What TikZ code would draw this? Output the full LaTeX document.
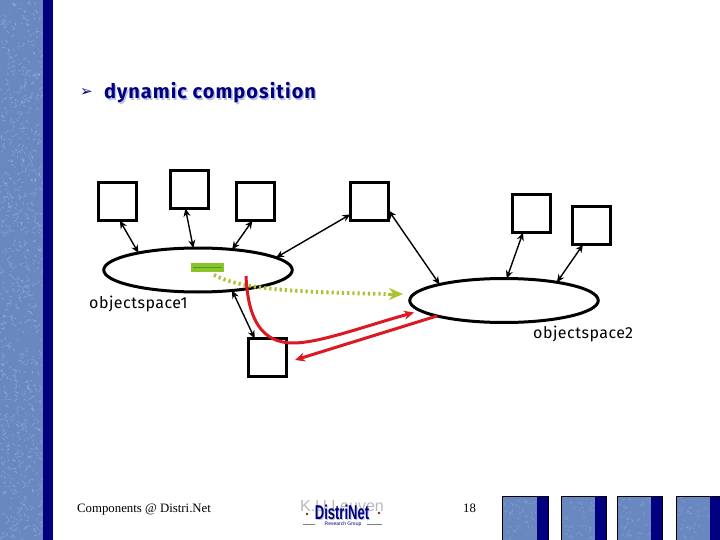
\documentclass[tikz,border=0pt]{standalone}
\usepackage{fontspec}
\usetikzlibrary{arrows.meta,shapes.geometric,calc}
\setmainfont{Liberation Serif}
\newfontfamily\labelfont[LetterSpace=3]{Fira Sans}
\newfontfamily\titlefont[LetterSpace=5]{Fira Sans}
\newfontfamily\logofont[FakeStretch=0.65]{Liberation Sans}
\newfontfamily\plainsans{Liberation Sans}
\newfontfamily\symfont{DejaVu Sans}
\definecolor{slate}{RGB}{106,136,192}
\definecolor{slatelight}{RGB}{165,190,230}
\definecolor{navybar}{RGB}{0,0,128}
\definecolor{titleshade}{RGB}{190,195,225}
\definecolor{limebar}{RGB}{140,195,40}
\definecolor{limeline}{RGB}{60,160,50}
\definecolor{olivedot}{RGB}{170,195,50}
\definecolor{redline}{RGB}{220,25,35}
\definecolor{logogrey}{RGB}{185,185,185}
\definecolor{logored}{RGB}{130,40,40}
\tikzset{
 objbox/.style={draw=black,line width=2.9pt,fill=white,minimum width=38.2pt,minimum height=38.2pt,inner sep=0pt,outer sep=0pt},
 space/.style={draw=black,line width=3pt,fill=white,ellipse,inner sep=0pt,outer sep=0pt,minimum width=188.5pt,minimum height=44pt},
 link/.style={line width=1.4pt,{Stealth[length=8pt,width=7pt]}-{Stealth[length=8pt,width=7pt]}},
 call/.style={draw=redline,line width=3pt,-{Stealth[length=10pt,width=9pt]}},
 dotpath/.style={draw=olivedot,line width=3.8pt,dash pattern=on 2.2pt off 3pt},
 dothead/.style={draw=olivedot,line width=3pt,-{Stealth[length=14pt,width=12pt,open,line width=2.4pt]}},
 spacelabel/.style={font=\labelfont\fontsize{16}{16}\selectfont,inner sep=0pt,text=black},
 footer/.style={font=\fontsize{12.8}{13}\selectfont,inner sep=0pt,text=black},
 titletext/.style={inner sep=0pt,font=\titlefont\bfseries\fontsize{20}{20}\selectfont},
}
\newcommand{\speckle}[6]{%
 \foreach \i in {1,...,#5}{
  \pgfmathsetmacro{\px}{#1+(#2-#1)*rnd}
  \pgfmathsetmacro{\py}{#3+(#4-#3)*rnd}
  \pgfmathsetmacro{\dx}{3*rand}
  \pgfmathsetmacro{\dy}{3*rand}
  \draw[slatelight,line width=#6,opacity=.5,line cap=round] (\px,\py) -- ++(\dx,\dy);
 }}
\begin{document}
\begin{tikzpicture}[x=1pt,y=-1pt]
\useasboundingbox (0,0) rectangle (720,540);
\fill[white] (0,0) rectangle (720,540);
\pgfmathsetseed{42}
% sidebar
\fill[slate] (0,0) rectangle (43,540);
\speckle{1}{42}{1}{539}{900}{.7pt}
\fill[navybar] (43,0) rectangle (53,540);
% thumbnails
\foreach \a/\b/\c in {502/537/548,561/595/606,617/651/662,676/710/720}{
 \fill[slate] (\a,496) rectangle (\b,540);
 \speckle{\a+2}{\b-2}{498}{538}{45}{.5pt}
 \fill[navybar] (\b,496) rectangle (\c,540);
 \draw[black,line width=.9pt] (\a,540) -- (\a,496) -- (\c,496) -- (\c,540);
}
% title
\node[inner sep=0pt,text=navybar,font=\symfont\fontsize{15}{15}\selectfont] (bullet) at (86.5,93) {➢};
\node[titletext,text=titleshade] (titleshadow) at (211.5,94.5) {dynamic composition};
\node[titletext,text=navybar] (title) at (210,93) {dynamic composition};
% shapes
\node[space] (e1) at (198,270) {};
\node[space] (e2) at (504,300.5) {};
\node[objbox] (b1) at (117.5,201.5) {};
\node[objbox] (b2) at (189.5,189.5) {};
\node[objbox] (b3) at (255.5,201.5) {};
\node[objbox] (b4) at (369.5,201.5) {};
\node[objbox] (b5) at (267.5,357.5) {};
\node[objbox] (b6) at (531.5,213.5) {};
\node[objbox] (b7) at (591.5,225.5) {};
% links
\draw[link] (b1.-83) -- (e1.164);
\draw[link] (b2.-102) -- (e1.102);
\draw[link] (b3.-99) -- (e1.31);
\draw[link] (b4.-146) -- (e1.9);
\draw[link] (b4.-25) -- (e2.166);
\draw[link] (b5.124) -- (e1.-31);
\draw[link] (b6.-114) -- (e2.83);
\draw[link] (b7.-114) -- (e2.19);
% message
\node[fill=limebar,minimum width=33pt,minimum height=9pt,inner sep=0pt,outer sep=0pt] (msg) at (207.5,267.5) {};
\draw[limeline,line width=1pt] ($(msg.west)+(2,0)$) -- ($(msg.east)+(-2,0)$);
\coordinate (dotstart) at (214,275);
\coordinate (dotbend) at (388,294);
\coordinate (dotend) at (403,294);
\coordinate (redstart) at (246,276);
\coordinate (redlow) at (293,343);
\coordinate (redend) at (414,312.5);
\coordinate (backend) at (295,360);
\draw[dotpath] (dotstart) .. controls (240,288) and (280,292) .. (dotbend);
\draw[dothead] (dotbend) -- (dotend);
\draw[call] (redstart) .. controls (248,320) and (262,343) .. (redlow) .. controls (320,343) and (365,326) .. (redend);
\draw[call] (e2.-167) -- (backend);
% labels
\node[spacelabel,anchor=base west] (lab1) at (89,308.5) {objectspace1};
\node[spacelabel,anchor=base west] (lab2) at (533,338.5) {objectspace2};
% footer
\node[footer,anchor=base west] (foot) at (77,512) {Components @ Distri.Net};
\node[footer,anchor=base] (page) at (469.5,512) {18};
% logo
\node[inner sep=0pt,text=logogrey,font=\plainsans\fontsize{16}{16}\selectfont] (kul) at (342,506) {K.U.Leuven};
\node[inner sep=0pt,text=titleshade,font=\logofont\bfseries\fontsize{20}{20}\selectfont] (logoshade) at (343,513) {DistriNet};
\node[inner sep=0pt,text=navybar,font=\logofont\bfseries\fontsize{20}{20}\selectfont] (logo) at (342,512) {DistriNet};
\node[inner sep=0pt,text=navybar,font=\plainsans\fontsize{5}{5}\selectfont] (logosub) at (343,524) {Research Group};
\draw[gray,line width=.6pt] ($(logosub.west)+(-9,0)$) -- ++(-12,0);
\draw[gray,line width=.6pt] ($(logosub.east)+(5,0)$) -- ++(15,0);
\node[circle,fill=logored,minimum size=2.6pt,inner sep=0pt] (dotl) at (307,514) {};
\node[circle,fill=logored,minimum size=2.6pt,inner sep=0pt] (dotr) at (379,513) {};
\end{tikzpicture}
\end{document}
